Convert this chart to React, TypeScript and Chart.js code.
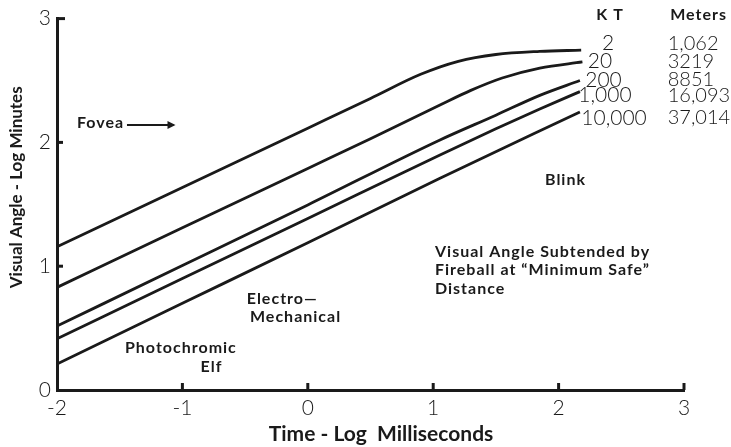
import React, { useEffect, useRef } from "react";
import { Chart, registerables } from "chart.js";

Chart.register(...registerables);

// ---- Data (log ms vs log minutes) ----
const kt2X = [-2, -1, 0, 0.5, 0.9, 1.2, 1.5, 1.85, 2.18];
const kt2Y = [1.157, 1.636, 2.115, 2.355, 2.55, 2.655, 2.71, 2.735, 2.745];

const kt20X = [-2, -1, 0, 0.5, 1.05, 1.3, 1.55, 1.85, 2.19];
const kt20Y = [0.829, 1.31, 1.79, 2.03, 2.3, 2.42, 2.52, 2.6, 2.65];

const kt200X = [-2, -1, 0, 1.05, 1.5, 1.85, 2.17];
const kt200Y = [0.517, 1.005, 1.495, 2.018, 2.22, 2.38, 2.5];

const kt1000X = [-2, -1, 0, 1.05, 1.5, 1.85, 2.17];
const kt1000Y = [0.414, 0.9, 1.385, 1.897, 2.11, 2.27, 2.41];

const kt10000X = [-2, -1, 0, 1.05, 2.17];
const kt10000Y = [0.21, 0.7, 1.19, 1.709, 2.246];

const seriesX = [kt2X, kt20X, kt200X, kt1000X, kt10000X];
const seriesY = [kt2Y, kt20Y, kt200Y, kt1000Y, kt10000Y];

const ktLabels = ["2", "20", "200", "1,000", "10,000"];
const meterLabels = ["1,062", "3219", "8851", "16,093", "37,014"];
const xTicks = [-2, -1, 0, 1, 2, 3];
const yTicks = [0, 1, 2, 3];

const FONT = "Lato, 'DejaVu Sans', sans-serif";

// annotation placement in data units
const ktLabelPos = [
  [2.394, 2.801],
  [2.33, 2.655],
  [2.358, 2.506],
  [2.37, 2.381],
  [2.442, 2.199],
];
const meterLabelX = 2.87;

const annotationPlugin = {
  id: "annotations",
  afterDraw(chart: any) {
    const ctx = chart.ctx as any;
    const xs = chart.scales.x;
    const ys = chart.scales.y;
    const px = (v: number) => xs.getPixelForValue(v);
    const py = (v: number) => ys.getPixelForValue(v);
    ctx.save();
    ctx.fillStyle = "#1a1a1a";
    ctx.strokeStyle = "#1a1a1a";

    // inward tick marks
    ctx.lineWidth = 3;
    const left = chart.chartArea.left;
    const bottom = chart.chartArea.bottom;
    xTicks.forEach((t) => {
      if (t === xTicks[0]) return;
      const x = px(t);
      ctx.beginPath();
      ctx.moveTo(x, bottom);
      ctx.lineTo(x, bottom - 7);
      ctx.stroke();
    });
    yTicks.forEach((t) => {
      if (t === yTicks[0]) return;
      const y = py(t);
      ctx.beginPath();
      ctx.moveTo(left, y);
      ctx.lineTo(left + (t === 3 ? 8 : 6), y);
      ctx.stroke();
    });

    ctx.textBaseline = "middle";

    // headers
    ctx.font = `bold 16px ${FONT}`;
    ctx.letterSpacing = "1px";
    ctx.textAlign = "center";
    ctx.fillText("K T", px(2.41), py(3.027));
    ctx.fillText("Meters", px(3.116), py(3.027));
    ctx.letterSpacing = "0px";

    // KT & meters columns
    ktLabels.forEach((l, i) => {
      ctx.font = `300 21px ${FONT}`;
      ctx.textAlign = "center";
      ctx.fillText(l, px(ktLabelPos[i][0]), py(ktLabelPos[i][1]));
      ctx.font = `300 20px ${FONT}`;
      ctx.textAlign = "left";
      ctx.fillText(meterLabels[i], px(meterLabelX), py(ktLabelPos[i][1]));
    });

    // text annotations
    ctx.font = `bold 16px ${FONT}`;
    ctx.letterSpacing = "1px";
    ctx.textAlign = "left";
    ctx.fillText("Fovea", px(-1.841), py(2.155));
    ctx.lineWidth = 2;
    ctx.beginPath();
    ctx.moveTo(px(-1.442), py(2.14));
    ctx.lineTo(px(-1.07), py(2.14));
    ctx.stroke();
    ctx.beginPath();
    ctx.moveTo(px(-1.055), py(2.14));
    ctx.lineTo(px(-1.055) - 8, py(2.14) - 4);
    ctx.lineTo(px(-1.055) - 8, py(2.14) + 4);
    ctx.closePath();
    ctx.fill();

    ctx.textAlign = "center";
    ctx.fillText("Blink", px(2.055), py(1.695));

    ctx.textAlign = "left";
    ctx.fillText("Visual Angle Subtended by", px(1.014), py(1.116));
    ctx.fillText("Fireball at \u201CMinimum Safe\u201D", px(1.014), py(0.9685));
    ctx.fillText("Distance", px(1.014), py(0.821));

    ctx.fillText("Electro\u2014", px(-0.487), py(0.74));
    ctx.fillText("Mechanical", px(-0.461), py(0.592));

    ctx.fillText("Photochromic", px(-1.458), py(0.337));
    ctx.textAlign = "center";
    ctx.fillText("Elf", px(-0.768), py(0.188));

    ctx.restore();
  },
};

export default function App() {
  const ref = useRef<HTMLCanvasElement | null>(null);

  useEffect(() => {
    if (!ref.current) return;
    const datasets = seriesX.map((xsArr, i) => ({
      label: ktLabels[i] + " KT",
      data: xsArr.map((x, j) => ({ x, y: seriesY[i][j] })),
      borderColor: "#1a1a1a",
      borderWidth: 2.8,
      pointRadius: 0,
      fill: false,
      cubicInterpolationMode: "monotone" as const,
    }));

    const chart = new Chart(ref.current, {
      type: "line",
      data: { datasets },
      plugins: [annotationPlugin],
      options: {
        animation: false,
        responsive: false,
        devicePixelRatio: 1,
        layout: { padding: { top: 18, right: 47, left: 0, bottom: 0 } },
        plugins: {
          legend: { display: false },
          tooltip: { enabled: false },
        },
        scales: {
          x: {
            type: "linear",
            min: -2,
            max: 3,
            afterFit: (s: any) => {
              s.height = 57;
            },
            afterBuildTicks: (s: any) => {
              s.ticks = xTicks.map((v) => ({ value: v }));
            },
            grid: { display: false, drawTicks: false },
            border: { display: true, color: "#1a1a1a", width: 3 },
            ticks: {
              color: "#1a1a1a",
              padding: 6,
              font: { family: FONT, size: 21, weight: 300 as any },
              maxRotation: 0,
              autoSkip: false,
            },
            title: {
              display: true,
              text: "\u2002\u2002Time - Log  Milliseconds",
              color: "#1a1a1a",
              font: { family: FONT, size: 21, weight: "bold" },
              padding: { top: 0, bottom: 0 },
            },
          },
          y: {
            type: "linear",
            min: 0,
            max: 3,
            afterFit: (s: any) => {
              s.width = 57;
            },
            afterBuildTicks: (s: any) => {
              s.ticks = yTicks.map((v) => ({ value: v }));
            },
            grid: { display: false, drawTicks: false },
            border: { display: true, color: "#1a1a1a", width: 3 },
            ticks: {
              color: "#1a1a1a",
              padding: 6,
              font: { family: FONT, size: 21, weight: 300 as any },
              autoSkip: false,
            },
            title: {
              display: true,
              text: "\u2002\u2002\u2002\u2002Visual Angle - Log Minutes",
              color: "#1a1a1a",
              font: { family: FONT, size: 17, weight: "bold" },
              padding: { top: 6, bottom: 0 },
            },
          },
        },
      },
    });
    return () => chart.destroy();
  }, []);

  return (
    <div style={{ position: "absolute", left: 0, top: 0, width: 731, height: 447, background: "#fff" }}>
      <canvas ref={ref} width={731} height={447} style={{ width: 731, height: 447 }} />
    </div>
  );
}
